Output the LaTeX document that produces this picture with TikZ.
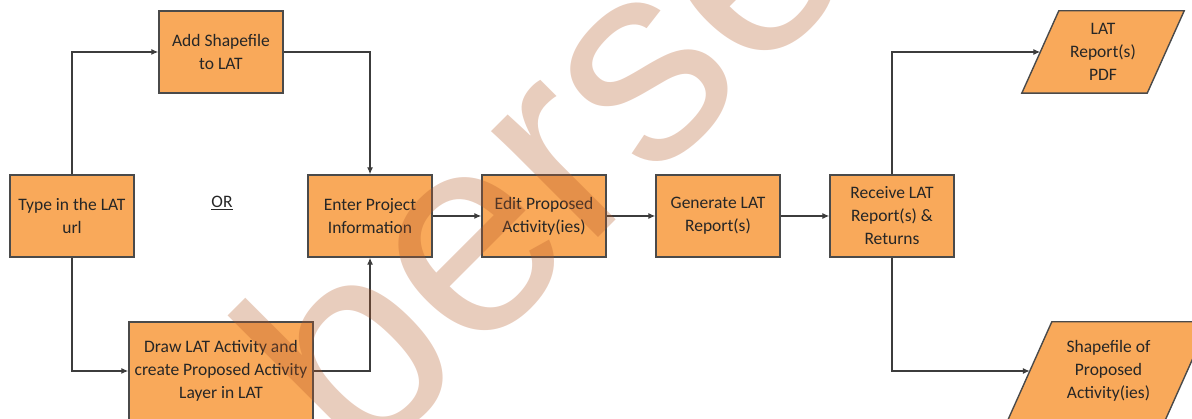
\documentclass[tikz,border=0pt]{standalone}
\usepackage{fontspec}
\setmainfont{Carlito}
\newfontfamily\wmfont{Liberation Sans}
\usetikzlibrary{arrows.meta}
\definecolor{boxfill}{HTML}{F9A95A}
\definecolor{boxline}{HTML}{4A4A4A}
\definecolor{linec}{HTML}{3C3C3C}
\definecolor{txt}{HTML}{262626}
\definecolor{wm}{RGB}{180,88,38}
\pgfdeclarelayer{bg}
\pgfdeclarelayer{front}
\pgfsetlayers{bg,main,front}
\begin{document}
\begin{tikzpicture}[x=1pt,y=-1pt,
  lbl/.style={inner sep=0pt, align=center, text=txt, font=\fontsize{17.5}{23}\selectfont},
  box/.style={lbl, draw=boxline, line width=1.4pt, fill=boxfill, minimum width=124pt, minimum height=82pt},
  ghost/.style={lbl, minimum height=82pt},
  para/.style={draw=boxline, line width=1.4pt, fill=boxfill, line join=miter},
  conn/.style={draw=linec, line width=1.2pt, -{Latex[length=7pt,width=6pt]}}]
\clip (0,0) rectangle (1192,419);
% boxes
\node[box] (type) at (72,216) {Type in the LAT\\url};
\node[box] (add) at (221,52) {Add Shapefile\\to LAT};
\node[box, minimum width=184pt, minimum height=98pt] (drawb) at (221,371) {Draw LAT Activity and\\create Proposed Activity\\Layer in LAT};
\node[box] (enter) at (370,216) {Enter Project\\Information};
\node[box] (edit) at (544,216) {Edit Proposed\\Activity(ies)};
\node[box] (gen) at (718,216) {Generate LAT\\Report(s)};
\node[box] (recv) at (892,216) {Receive LAT\\Report(s) \&\\Returns};
\node[lbl] (or) at (222,203) {\underline{OR}};
% parallelograms
\node[ghost, minimum width=125pt] (pdf) at (1103,52) {LAT\\Report(s)\\PDF};
\node[ghost, minimum width=157pt, minimum height=98pt] (shp) at (1108.5,371) {Shapefile of\\Proposed\\Activity(ies)};
\begin{pgfonlayer}{bg}
\path[para] ([xshift=18.5pt]pdf.north west) -- ([xshift=18.5pt]pdf.north east) -- ([xshift=-18.5pt]pdf.south east) -- ([xshift=-18.5pt]pdf.south west) -- cycle;
\path[para] ([xshift=22pt]shp.north west) -- ([xshift=22pt]shp.north east) -- ([xshift=-22pt]shp.south east) -- ([xshift=-22pt]shp.south west) -- cycle;
\end{pgfonlayer}
% connectors
\draw[conn] (type.north) |- (add.west);
\draw[conn] (type.south) |- (drawb.west);
\draw[conn] (add.east) -| (enter.north);
\draw[conn] (drawb.east) -| (enter.south);
\draw[conn] (enter) -- (edit);
\draw[conn] (edit) -- (gen);
\draw[conn] (gen) -- (recv);
\draw[conn] (recv.north) |- (pdf.west);
\draw[conn] (recv.south) |- (shp.west);
% watermark
\begin{pgfonlayer}{front}
\node[rotate=45, anchor=base west, inner sep=0pt, text=wm, text opacity=0.3, font=\wmfont\fontsize{285}{285}\selectfont] (wmk) at (360,476) {berse};
\end{pgfonlayer}
\end{tikzpicture}
\end{document}
